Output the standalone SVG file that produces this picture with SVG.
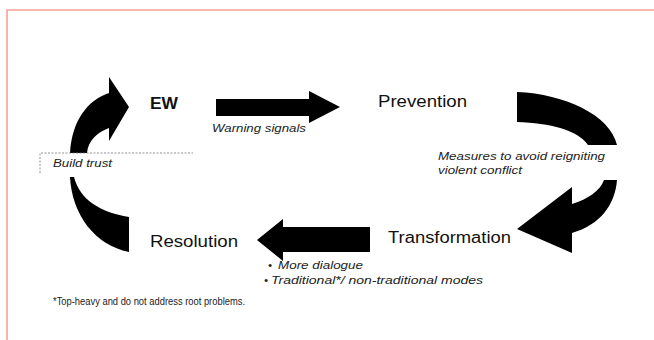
<svg xmlns="http://www.w3.org/2000/svg" width="654" height="340" viewBox="0 0 654 340">
  <style>
    .frame { fill: none; stroke: #f4a393; stroke-width: 1.6; }
    .node { font-family: "Liberation Sans", Arial, sans-serif; font-size: 16px; fill: #111; }
    .bold { font-weight: bold; }
    .note { font-family: "Liberation Sans", Arial, sans-serif; font-size: 11.5px; font-style: italic; fill: #222; }
    .foot { font-family: "Liberation Sans", Arial, sans-serif; font-size: 10.5px; fill: #222; }
    .arrow { fill: #000; stroke: none; }
    .dash { fill: none; stroke: #777; stroke-width: 0.8; stroke-dasharray: 2 1.5; }
  </style>

  <!-- page frame -->
  <polyline class="frame" points="7,340 7,10 654,10"/>

  <!-- cycle arrows -->
  <g id="connectors">
    <!-- EW -> Prevention -->
    <polygon class="arrow" points="216,99 309,99 309,91 340,107 309,123 309,116 216,116"/>
    <text class="note" x="212" y="132" textLength="94" lengthAdjust="spacingAndGlyphs">Warning signals</text>

    <!-- Prevention -> Transformation (upper arc) -->
    <path class="arrow" d="M517 92 C565 94 610 115 617 145 L588 145 C578 130 550 123 517 122 Z"/>
    <!-- lower arc with head -->
    <path class="arrow" d="M617 180 C615 205 600 225 572 233 L572 253 L517 229 L572 187 L572 204 C588 199 600 191 604 180 Z"/>
    <text class="note" x="438" y="160" textLength="167" lengthAdjust="spacingAndGlyphs">Measures to avoid reigniting</text>
    <text class="note" x="438" y="174" textLength="84" lengthAdjust="spacingAndGlyphs">violent conflict</text>

    <!-- Transformation -> Resolution -->
    <polygon class="arrow" points="370,227 283,227 283,219 257,240 283,261 283,252 370,252"/>
    <text class="note" x="268" y="269">•</text>
    <text class="note" x="278" y="269" textLength="85" lengthAdjust="spacingAndGlyphs">More dialogue</text>
    <text class="note" x="264" y="284">•</text>
    <text class="note" x="271" y="284" textLength="212" lengthAdjust="spacingAndGlyphs">Traditional*/ non-traditional  modes</text>

    <!-- Resolution -> EW (lower piece) -->
    <path class="arrow" d="M70 177 C72 215 95 245 129 252 L129 217 C100 212 80 200 74 177 Z"/>
    <!-- upper piece with head -->
    <path class="arrow" d="M70 153 C72 120 88 100 109 93 L109 77 L129 107 L109 141 L109 128 C98 132 88 140 87 153 Z"/>
    <polyline class="dash" points="40,173 40,153 193,153"/>
    <text class="note" x="53" y="167" textLength="59" lengthAdjust="spacingAndGlyphs">Build trust</text>
  </g>

  <g id="ew">
    <text class="node bold" x="150" y="109" textLength="28" lengthAdjust="spacingAndGlyphs">EW</text>
  </g>
  <g id="prevention">
    <text class="node" x="378" y="107" textLength="89" lengthAdjust="spacingAndGlyphs">Prevention</text>
  </g>
  <g id="transformation">
    <text class="node" x="388" y="243" textLength="123" lengthAdjust="spacingAndGlyphs">Transformation</text>
  </g>
  <g id="resolution">
    <text class="node" x="150" y="247" textLength="88" lengthAdjust="spacingAndGlyphs">Resolution</text>
  </g>

  <text class="foot" x="53" y="305" textLength="192" lengthAdjust="spacingAndGlyphs">*Top-heavy and do not address root problems.</text>
</svg>
